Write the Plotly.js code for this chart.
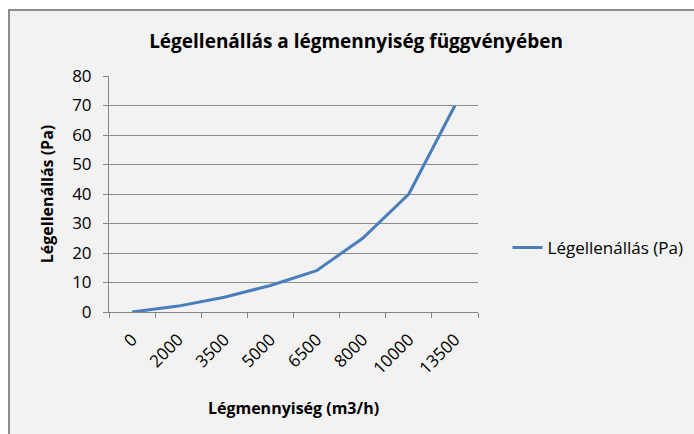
<!DOCTYPE html>
<html>
<head>
<meta charset="utf-8">
<script src="https://cdn.plot.ly/plotly-3.0.1.min.js"></script>
<style>
  html, body { margin:0; padding:0; background:#ffffff; }
  #frame { position:absolute; left:8px; top:9px; width:700px; height:440px;
           background:#f2f2f2; border-left:2px solid #8c8c8c; border-top:2px solid #8c8c8c; box-sizing:border-box; }
  #chart { position:absolute; left:0; top:0; width:694px; height:434px; }
</style>
</head>
<body>
<div id="frame"></div>
<div id="chart"></div>
<script>
const categories = ["0", "2000", "3500", "5000", "6500", "8000", "10000", "13500"];
const resistance = [0, 2, 5, 9, 14, 25, 40, 70];
const seriesName = "Légellenállás (Pa)";
const chartTitle = "Légellenállás a légmennyiség függvényében";
const xTitle = "Légmennyiség (m3/h)";
const yTitle = "Légellenállás (Pa)";

const FONT = "'Open Sans', sans-serif";

Plotly.newPlot("chart", [{
  type: "scatter",
  mode: "lines",
  x: categories,
  y: resistance,
  name: seriesName,
  line: { color: "#4a7ebb", width: 3 },
  showlegend: true
}], {
  width: 694, height: 434,
  paper_bgcolor: "rgba(0,0,0,0)",
  plot_bgcolor: "rgba(0,0,0,0)",
  margin: { l: 109, r: 216, t: 76, b: 122, autoexpand: false },
  font: { family: FONT, size: 16, color: "#000000" },
  title: { text: "<b>" + chartTitle + "</b>", font: { family: FONT, size: 19, color: "#000" },
           xref: "container", x: 0.513, xanchor: "center",
           yref: "container", y: 0.905, yanchor: "middle" },
  xaxis: {
    type: "category",
    range: [-0.5, 7.5],
    tickson: "boundaries",
    automargin: false,
    ticks: "outside", ticklen: 5, tickcolor: "#868686",
    showline: true, linecolor: "#868686", linewidth: 1,
    showgrid: false, zeroline: false,
    tickangle: -45,
    ticklabelstandoff: 10,
    tickfont: { family: FONT, size: 17, color: "#000" },
    title: { text: "<b>" + xTitle + "</b>", font: { family: FONT, size: 16, color: "#000" }, standoff: 24 }
  },
  yaxis: {
    range: [0, 80], dtick: 10,
    automargin: false,
    ticks: "outside", ticklen: 5, tickcolor: "#868686",
    showline: true, linecolor: "#868686", linewidth: 1,
    showgrid: true, gridcolor: "#8c8c8c", gridwidth: 1,
    zeroline: false,
    ticklabelstandoff: 8,
    tickfont: { family: FONT, size: 17, color: "#000" },
    title: { text: "<b>" + yTitle + "</b>", font: { family: FONT, size: 16, color: "#000" }, standoff: 14 }
  },
  legend: {
    x: 1.08, xanchor: "left", y: 0.271, yanchor: "middle",
    bgcolor: "rgba(0,0,0,0)",
    font: { family: FONT, size: 17, color: "#000" }
  }
}, { displayModeBar: false, staticPlot: true });
</script>
</body>
</html>
